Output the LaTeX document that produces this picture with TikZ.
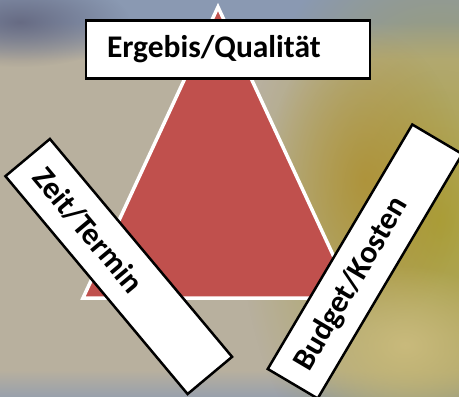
\documentclass[tikz,border=0pt]{standalone}
\usepackage{fontspec}
\setmainfont{Carlito}
\usetikzlibrary{fadings}

\definecolor{dreieckrot}{HTML}{C0504D}
\definecolor{hgbeige}{HTML}{B8B09E}
\definecolor{hgblau}{HTML}{8A99B2}
\definecolor{hgdunkel}{HTML}{5E6078}
\definecolor{hgocker}{HTML}{AE8C2C}
\definecolor{hgoliv}{HTML}{AAA03A}
\definecolor{hggelb}{HTML}{C9BA7C}
\definecolor{hggrau}{HTML}{98A0AC}

\tikzfading[name=fleck, inner color=transparent!0, outer color=transparent!100]

\tikzset{
	schild/.style={draw=black, line width=2.5pt, fill=white, minimum height=58pt, align=left,
		font=\fontsize{31.5}{34}\selectfont\bfseries},
}

\begin{document}
\begin{tikzpicture}[x=1pt, y=-1pt]

		\useasboundingbox (0,0) rectangle (459,397);
		\clip (0,0) rectangle (459,397);

		%Hintergrund (unscharfes Foto)
		\fill [hgbeige] (0,0) rectangle (459,397);
		\fill [hgblau] (0,0) rectangle (459,22);
		\shade [top color=hgblau, bottom color=hgbeige] (0,22) rectangle (459,60);
		\fill [hgdunkel, path fading=fleck, opacity=0.8] (20,22) ellipse (110 and 45);
		\shade [top color=hgbeige, bottom color=hggrau] (0,370) rectangle (459,397);
		\fill [hgoliv, path fading=fleck] (440,220) ellipse (200 and 300);
		\fill [hgocker, path fading=fleck, opacity=0.7] (365,180) ellipse (100 and 150);
		\fill [hggelb, path fading=fleck] (405,345) ellipse (110 and 80);

		%Dreieck
		\coordinate (A) at (218,7);
		\coordinate (B) at (83,298);
		\coordinate (C) at (353,298);
		\filldraw [fill=dreieckrot, draw=white, line width=3.5pt] (A) -- (B) -- (C) -- cycle;

		%Schilder
		\node [schild, text width=242pt, inner xsep=21pt] (Q) at (228,49.5) {Ergebis/Qualität};
		\node [schild, text width=248pt, inner xsep=18pt, rotate=-50.1] (T) at (118.75,266.5) {Zeit/Termin};
		\node [schild, text width=248pt, inner xsep=18pt, rotate=59.4] (K) at (365,261.5) {Budget/Kosten};

	\end{tikzpicture}
\end{document}
